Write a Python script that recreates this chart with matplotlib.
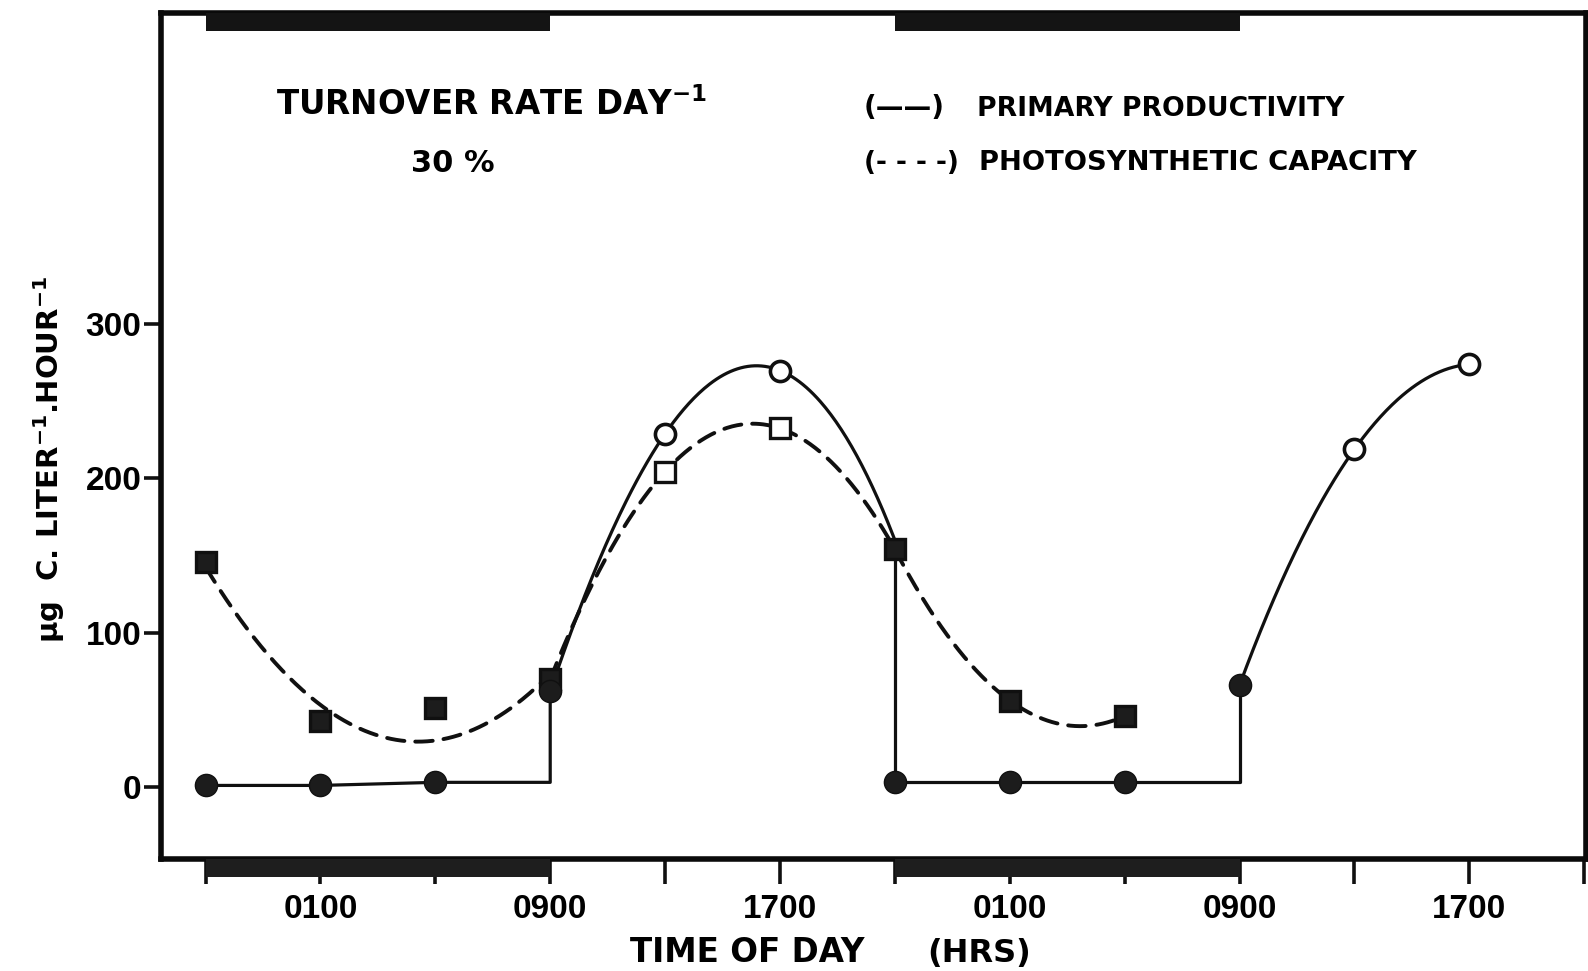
import numpy as np
import matplotlib
matplotlib.use("Agg")
import matplotlib.pyplot as plt
from matplotlib.patches import Rectangle
import matplotlib.transforms as mtransforms

# ---------------- data (hours counted from 2100 of the first evening) ----------------
prim_t = [0, 4, 8, 12, 16, 20, 24, 28, 32, 36, 40, 44]
prim_v = [1, 1, 3, 62, 229, 270, 3, 3, 3, 66, 219, 274]
prim_filled = [True, True, True, True, False, False, True, True, True, True, False, False]
prim_dusk_v = 160            # end of the first daylight curve at 2100 (before drop)

cap_t = [0, 4, 8, 12, 16, 20, 24, 28, 32]
cap_v = [146, 43, 51, 70, 204, 233, 154, 56, 46]
cap_filled = [True, True, True, True, False, False, True, True, True]

dark_start = [0, 24]
dark_end = [12, 36]

xtick_pos = list(range(0, 49, 4))
xtick_labels = ['', '0100', '', '0900', '', '1700', '', '0100', '', '0900', '', '1700', '']
ytick_pos = [0, 100, 200, 300]
ytick_labels = ['0', '100', '200', '300']

# ---------------- style ----------------
plt.rcParams['font.family'] = ['DejaVu Sans']
plt.rcParams['font.weight'] = 'bold'
plt.rcParams['mathtext.fontset'] = 'custom'
plt.rcParams['mathtext.rm'] = 'DejaVu Sans:bold'
plt.rcParams['mathtext.it'] = 'DejaVu Sans:bold'
plt.rcParams['mathtext.bf'] = 'DejaVu Sans:bold'
plt.rcParams['mathtext.default'] = 'rm'

W, H = 1588, 971
fig = plt.figure(figsize=(W / 100, H / 100), dpi=100)
ax = fig.add_axes([161 / W, 1 - 859 / H, (1586 - 161) / W, (859 - 13) / H])
ax.set_xlim(-1.55, 48.06)
ax.set_ylim(-46.7, 501.8)

for s in ax.spines.values():
    s.set_linewidth(4.0)
    s.set_color('#0a0a0a')

ink = '#101010'
solid_kw = dict(color=ink, lw=2.3, solid_capstyle='round', zorder=3)
dash_kw = dict(color=ink, lw=2.8, dashes=(4.5, 2.8), dash_capstyle='round', zorder=3)

pt = np.array(prim_t, float)
pv = np.array(prim_v, float)
ct = np.array(cap_t, float)
cv = np.array(cap_v, float)

# ---- primary productivity (solid) ----
# night 1: flat line, then vertical rise at dawn
n1 = (pt >= 0) & (pt <= 8)
ax.plot(list(pt[n1]) + [pt[3], pt[3]], list(pv[n1]) + [pv[2], pv[3]], **solid_kw)
# day 1 smooth curve
d1_t = np.array(list(pt[3:6]) + [pt[6]])
d1_v = np.array(list(pv[3:6]) + [prim_dusk_v])
c = np.polyfit(d1_t, d1_v, 3)
xx = np.linspace(d1_t[0], d1_t[-1], 200)
ax.plot(xx, np.polyval(c, xx), **solid_kw)
# dusk drop
ax.plot([pt[6], pt[6]], [prim_dusk_v, pv[6]], **solid_kw)
# night 2 flat, then dawn rise
ax.plot(list(pt[6:9]) + [pt[9], pt[9]], list(pv[6:9]) + [pv[8], pv[9]], **solid_kw)
# day 2 curve
c = np.polyfit(pt[9:12], pv[9:12], 2)
xx = np.linspace(pt[9], pt[11], 200)
ax.plot(xx, np.polyval(c, xx), **solid_kw)

# ---- photosynthetic capacity (dashed) ----
seg_idx = [(0, 4, [1, 1, 0.7, 1]), (3, 7, [1, 1, 1, 1]), (6, 9, [1, 1, 1])]
for a, b, w in seg_idx:
    c = np.polyfit(ct[a:b], cv[a:b], 2, w=w)
    xx = np.linspace(ct[a], ct[b - 1], 200)
    ax.plot(xx, np.polyval(c, xx), **dash_kw)

# ---- markers ----
for t, v, f in zip(cap_t, cap_v, cap_filled):
    ax.plot([t], [v], marker='s', ms=14, mew=2.4, mec=ink,
            mfc=('#1c1c1c' if f else 'white'), zorder=5, ls='none')
for t, v, f in zip(prim_t, prim_v, prim_filled):
    ax.plot([t], [v], marker='o', ms=(16 if f else 14.5), mew=(1 if f else 2.6), mec=ink,
            mfc=('#1c1c1c' if f else 'white'), zorder=6, ls='none')

# ---- dark-period bars (top inside, bottom outside) ----
blend = mtransforms.blended_transform_factory(ax.transData, ax.transAxes)
for s0, s1 in zip(dark_start, dark_end):
    ax.add_patch(Rectangle((s0, 1 - 0.021), s1 - s0, 0.021, transform=blend,
                           facecolor='#141414', edgecolor='none', zorder=4, clip_on=False))
    ax.add_patch(Rectangle((s0, -0.021), s1 - s0, 0.021, transform=blend,
                           facecolor='#1e1e1e', edgecolor='none', zorder=4, clip_on=False))

# ---- ticks ----
ax.set_xticks(xtick_pos)
ax.set_xticklabels(xtick_labels, fontfamily='Liberation Sans', fontweight='bold', fontsize=24)
ax.set_yticks(ytick_pos)
ax.set_yticklabels(ytick_labels, fontfamily='Liberation Sans', fontweight='bold', fontsize=24)
ax.tick_params(axis='x', direction='out', length=18, width=2.6, pad=7, color=ink)
ax.tick_params(axis='y', direction='out', length=12, width=2.6, pad=2, color=ink)

# ---- texts ----
def fx(px):
    return px / W

def fy(py):
    return 1 - py / H

fig.text(fx(276), fy(115), 'TURNOVER RATE DAY$^{-1}$', fontsize=23.5, ha='left', va='baseline')
fig.text(fx(453), fy(172), '30 %', fontsize=22, ha='center', va='baseline')
fig.text(fx(864), fy(116), '(\u2014\u2014)', fontsize=20, ha='left', va='baseline')
fig.text(fx(977), fy(116), 'PRIMARY PRODUCTIVITY', fontsize=19.2, ha='left', va='baseline')
fig.text(fx(864), fy(170), '(- - - -)', fontsize=19, ha='left', va='baseline')
fig.text(fx(979), fy(170), 'PHOTOSYNTHETIC CAPACITY', fontsize=19.7, ha='left', va='baseline')
fig.text(fx(630), fy(962), 'TIME OF DAY', fontsize=23.5, ha='left', va='baseline')
fig.text(fx(927), fy(962), '(HRS)', fontsize=23, ha='left', va='baseline')
fig.text(fx(59), fy(460), '\u00b5g  C. LITER$^{-1}$.HOUR$^{-1}$', fontsize=21,
         rotation=90, rotation_mode='anchor', ha='center', va='baseline')

fig.savefig('out.png', dpi=100, facecolor='white')
